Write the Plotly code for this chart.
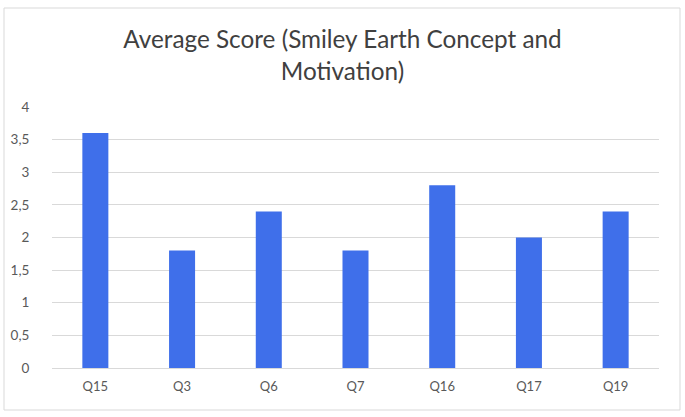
import plotly.graph_objects as go

categories = ["Q15", "Q3", "Q6", "Q7", "Q16", "Q17", "Q19"]
scores = [3.6, 1.8, 2.4, 1.8, 2.8, 2.0, 2.4]
y_ticks = [0, 0.5, 1, 1.5, 2, 2.5, 3, 3.5, 4]
y_tick_labels = ["0", "0,5", "1", "1,5", "2", "2,5", "3", "3,5", "4"]

W, H = 685, 417
L, R, T, B = 52, 26, 107, 49
pw, ph = W - L - R, H - T - B

fig = go.Figure(go.Bar(x=categories, y=scores, marker=dict(color="#3F6FEA", line=dict(width=0)), width=0.3))

fig.update_layout(
    width=W, height=H,
    margin=dict(l=L, r=R, t=T, b=B, autoexpand=False),
    paper_bgcolor="white", plot_bgcolor="white",
    showlegend=False,
    title=dict(text="Average Score (Smiley Earth Concept and<br>Motivation)",
               x=0.5, xanchor="center", y=1 - 48 / H, yanchor="middle", yref="container",
               font=dict(family="Lato", size=24.3, color="#404040")),
    font=dict(family="Lato", color="#595959", size=13),
    xaxis=dict(showgrid=False, showline=False, ticks="", tickfont=dict(size=13, color="#595959"),
               ticklabelstandoff=9, automargin=False),
    yaxis=dict(range=[0, 4], tickvals=y_ticks, ticktext=y_tick_labels, showgrid=True, gridcolor="#D9D9D9",
               gridwidth=1, zeroline=True, zerolinecolor="#D9D9D9", zerolinewidth=1, showline=False,
               ticks="outside", ticklen=5, tickcolor="rgba(0,0,0,0)",
               ticklabelstandoff=14, tickfont=dict(size=13.5, color="#595959"), automargin=False),
    shapes=[dict(type="rect", xref="paper", yref="paper",
                 x0=(4 - L) / pw, x1=(680 - L) / pw,
                 y0=(H - B - 410) / ph, y1=(H - B - 8) / ph,
                 line=dict(color="#D9D9D9", width=1), fillcolor="rgba(0,0,0,0)", layer="below")],
)

fig.write_html("out.html", config={"displayModeBar": False},
               post_script="document.body.style.margin='0';")
